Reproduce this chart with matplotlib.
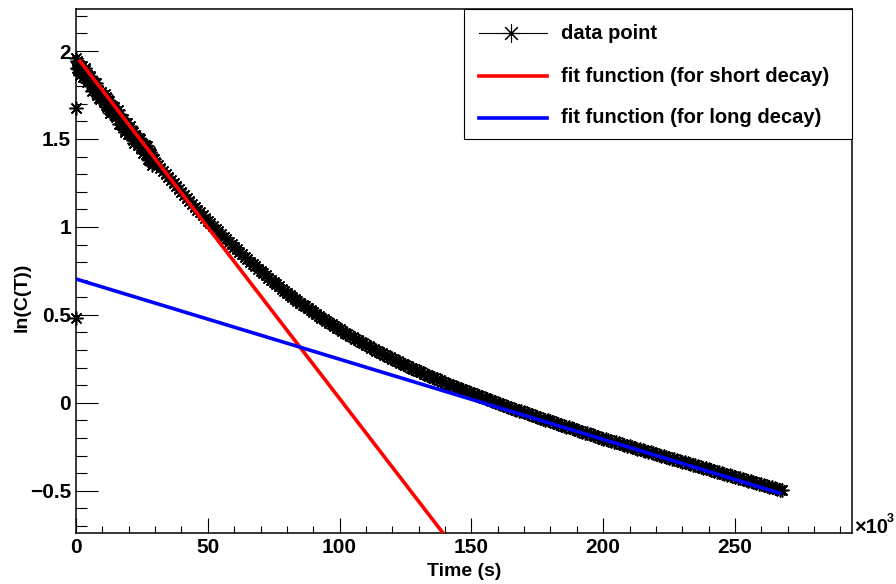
import numpy as np
import matplotlib
matplotlib.use("Agg")
import matplotlib.pyplot as plt
from matplotlib.patches import Rectangle
from matplotlib.lines import Line2D
from matplotlib.ticker import MultipleLocator, FuncFormatter

# dense early samples (every 0.5 ks), ln(C)
dense_t = np.arange(0, 30, 0.5)
dense_lnc = [1.960, 1.901, 1.921, 1.866, 1.917, 1.882, 1.857, 1.903, 1.823, 1.858,
             1.829, 1.854, 1.775, 1.825, 1.785, 1.821, 1.751, 1.772, 1.727, 1.768,
             1.748, 1.709, 1.754, 1.695, 1.700, 1.716, 1.646, 1.687, 1.653, 1.683,
             1.624, 1.639, 1.665, 1.586, 1.616, 1.582, 1.613, 1.538, 1.589, 1.560,
             1.526, 1.571, 1.527, 1.538, 1.479, 1.525, 1.506, 1.466, 1.507, 1.458,
             1.464, 1.420, 1.466, 1.417, 1.458, 1.389, 1.405, 1.416, 1.353, 1.385]

# the in-between early samples (0.25, 0.75, ... ks)
dense2_t = np.arange(0.25, 30, 0.5)
dense2_lnc = [1.945, 1.896, 1.909, 1.877, 1.915, 1.855, 1.895, 1.848, 1.856, 1.829,
              1.857, 1.800, 1.815, 1.790, 1.818, 1.771, 1.777, 1.735, 1.763, 1.743,
              1.744, 1.717, 1.740, 1.683, 1.723, 1.666, 1.682, 1.655, 1.683, 1.639,
              1.647, 1.637, 1.641, 1.586, 1.614, 1.583, 1.591, 1.549, 1.590, 1.528,
              1.564, 1.534, 1.548, 1.494, 1.517, 1.501, 1.501, 1.472, 1.498, 1.446,
              1.457, 1.428, 1.457, 1.423, 1.439, 1.382, 1.426, 1.370, 1.384, 1.363]

# later samples, one per ks from 30 to 268
tail_t = np.arange(30, 269, 1.0)
tail_lnc = [1.370, 1.352, 1.335, 1.317, 1.300, 1.282, 1.265, 1.248, 1.231, 1.214,
            1.198, 1.181, 1.164, 1.148, 1.132, 1.115, 1.099, 1.083, 1.067, 1.052,
            1.036, 1.021, 1.005, 0.990, 0.975, 0.960, 0.945, 0.930, 0.915, 0.901,
            0.886, 0.872, 0.858,
            0.844, 0.830, 0.817, 0.803, 0.789, 0.776, 0.763, 0.750, 0.737, 0.724,
            0.711, 0.699, 0.687, 0.674, 0.662, 0.650, 0.638, 0.626, 0.615, 0.603,
            0.592, 0.581, 0.570, 0.559, 0.548, 0.537, 0.526, 0.516, 0.506, 0.495,
            0.485, 0.475, 0.465, 0.455, 0.446, 0.436, 0.427, 0.417, 0.408, 0.399,
            0.390, 0.381, 0.372, 0.363, 0.355, 0.346, 0.338, 0.329, 0.321, 0.313,
            0.305, 0.297, 0.289, 0.281, 0.273, 0.266, 0.258, 0.251, 0.243, 0.236,
            0.229, 0.221, 0.214, 0.207, 0.200, 0.193, 0.187, 0.180, 0.173, 0.166,
            0.160, 0.153, 0.147, 0.140, 0.134, 0.127, 0.121, 0.115, 0.109, 0.103,
            0.097, 0.091, 0.085, 0.079, 0.073, 0.067, 0.061, 0.055, 0.049, 0.044,
            0.038, 0.032, 0.027, 0.021, 0.016, 0.010, 0.005, -0.001, -0.006, -0.012,
            -0.017, -0.022, -0.028, -0.033, -0.038, -0.044, -0.049, -0.054, -0.059, -0.064,
            -0.069, -0.075, -0.080, -0.085, -0.090, -0.095, -0.100, -0.105, -0.110, -0.115,
            -0.120, -0.125, -0.130, -0.135, -0.140, -0.145, -0.149, -0.154, -0.159, -0.164,
            -0.169, -0.174, -0.179, -0.183, -0.188, -0.193, -0.198, -0.203, -0.207, -0.211,
            -0.216, -0.220, -0.225, -0.229, -0.234, -0.238, -0.243, -0.247, -0.251, -0.256,
            -0.260, -0.265, -0.269, -0.273, -0.278, -0.282, -0.287, -0.291, -0.295, -0.300,
            -0.304, -0.308, -0.313, -0.317, -0.321, -0.326, -0.330, -0.334, -0.339, -0.343,
            -0.347, -0.352, -0.356, -0.360, -0.365, -0.369, -0.373, -0.378, -0.382, -0.386,
            -0.391, -0.395, -0.399, -0.403, -0.408, -0.412, -0.416, -0.421, -0.425, -0.429,
            -0.434, -0.438, -0.442, -0.446, -0.451, -0.455, -0.459, -0.464, -0.468, -0.472,
            -0.476, -0.481, -0.485, -0.489, -0.494, -0.498]

# stray points at the start
stray_t = [0.1, 0.1]
stray_lnc = [1.676, 0.482]

# fitted lines: ln(C) = a + b*t over the drawn range
short_a, short_b, short_range = 1.972, -0.01948, (1.5, 150.0)
long_a, long_b, long_range = 0.704, -0.00456, (0.0, 267.0)

plt.rcParams['font.family'] = ['Liberation Sans', 'DejaVu Sans']
plt.rcParams['font.weight'] = 'bold'

W, H = 896, 584
fig = plt.figure(figsize=(W / 100, H / 100), dpi=100)
ax = fig.add_axes([76 / W, 51 / H, 776 / W, 524 / H])

star = (8, 2, 0)
for tt, vv in [(dense_t, dense_lnc), (dense2_t, dense2_lnc),
               (tail_t, tail_lnc), (stray_t, stray_lnc)]:
    ax.plot(tt, vv, ls='none', marker=star, ms=10, mew=1.1, color='black',
            zorder=2, clip_on=False)

ts = np.array(short_range)
ax.plot(ts, short_a + short_b * ts, color='#ff0000', lw=2.6, zorder=3)
tl = np.array(long_range)
ax.plot(tl, long_a + long_b * tl, color='#0000ff', lw=2.6, zorder=3)

ax.set_xlim(0, 294.4)
ax.set_ylim(-0.74, 2.239)
ax.set_xticks([0, 50, 100, 150, 200, 250])
ax.set_yticks([-0.5, 0, 0.5, 1, 1.5, 2])
ax.xaxis.set_minor_locator(MultipleLocator(10))
ax.yaxis.set_minor_locator(MultipleLocator(0.1))
fmt = FuncFormatter(lambda v, _: f"{v:g}".replace('-', '\u2212'))
ax.xaxis.set_major_formatter(fmt)
ax.yaxis.set_major_formatter(fmt)
ax.tick_params(which='both', direction='in', top=False, right=False, width=0.8)
ax.tick_params(axis='y', which='major', length=15.8, pad=3.6, labelsize=15)
ax.tick_params(axis='y', which='minor', length=7.9)
ax.tick_params(axis='x', which='major', length=10.8, pad=3.5, labelsize=15)
ax.tick_params(axis='x', which='minor', length=5.4)
for sp in ax.spines.values():
    sp.set_linewidth(1.1)

fig.text(464 / W, 1 - 571 / H, 'Time (s)', ha='center', va='center', fontsize=14)
fig.text(22 / W, 1 - 297 / H, 'ln(C(T))', ha='center', va='center', rotation=90, fontsize=14)
fig.text(854 / W, 1 - 533 / H, '\u00d710', ha='left', va='baseline', fontsize=14.5)
fig.text(887 / W, 1 - 522 / H, '3', ha='left', va='baseline', fontsize=9)

# legend box
ax.add_patch(Rectangle((0.5, 0.752), 0.5, 0.248, transform=ax.transAxes,
                       fc='white', ec='black', lw=0.8, zorder=5, clip_on=False))
rows = [0.954, 0.872, 0.792]
labels = ['data point', 'fit function (for short decay)', 'fit function (for long decay)']
ax.add_line(Line2D([0.519, 0.607], [rows[0]] * 2, color='black', lw=0.8,
                   transform=ax.transAxes, zorder=6))
ax.add_line(Line2D([0.561], [rows[0]], ls='none', marker=star, ms=13, mew=0.8,
                   color='black', transform=ax.transAxes, zorder=6))
ax.add_line(Line2D([0.519, 0.607], [rows[1]] * 2, color='#ff0000', lw=2.6,
                   transform=ax.transAxes, zorder=6))
ax.add_line(Line2D([0.519, 0.607], [rows[2]] * 2, color='#0000ff', lw=2.6,
                   transform=ax.transAxes, zorder=6))
for y, lab in zip(rows, labels):
    ax.text(0.625, y, lab, transform=ax.transAxes, ha='left', va='center',
            fontsize=14.5, zorder=6)

fig.savefig('out.png')
